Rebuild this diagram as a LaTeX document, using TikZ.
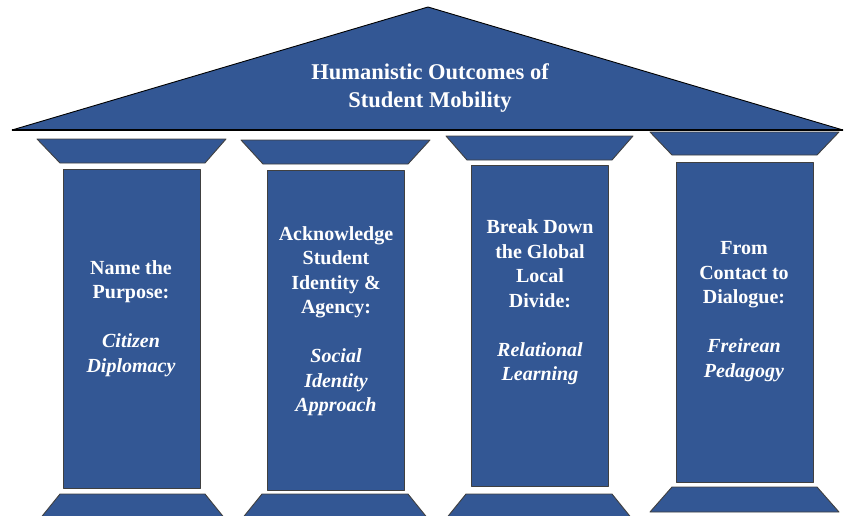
\documentclass[tikz,border=0pt]{standalone}
\usepackage{fontspec}
\setmainfont{Liberation Serif}
\definecolor{pillarblue}{RGB}{51,87,148}
\begin{document}
\begin{tikzpicture}[x=1pt,y=-1pt,
  part/.style={fill=pillarblue, draw=black!75, line width=0.9pt, line join=round},
  ptext/.style={text=white, font=\bfseries\fontsize{20}{24.5}\selectfont, align=center, inner sep=0pt},
  rtext/.style={text=white, font=\bfseries\fontsize{22.5}{28}\selectfont, align=center, inner sep=0pt}]
\useasboundingbox (0,0) rectangle (844,515);
\clip (0,0) rectangle (844,515);
% roof
\draw[part, draw=black] (12,130) -- (428,7) -- (843,130) -- cycle;
\draw[line width=2pt] (12,130) -- (843,130);
\node[rtext] (roof) at (430,88) {Humanistic Outcomes of\\Student Mobility};
% pillar 1
\draw[part] (37,139) -- (226,139) -- (205,163) -- (60,163) -- cycle;
\draw[part] (63,169) rectangle (200,488);
\draw[part] (60,494) -- (205,494) -- (226,520) -- (39,520) -- cycle;
% pillar 2
\draw[part] (241,140) -- (430,140) -- (408,164) -- (263,164) -- cycle;
\draw[part] (267,170) rectangle (404,490);
\draw[part] (262,494) -- (408,494) -- (429,520) -- (241,520) -- cycle;
% pillar 3
\draw[part] (446,136) -- (633,136) -- (612,160) -- (467,160) -- cycle;
\draw[part] (471,165) rectangle (608,486);
\draw[part] (466,494) -- (612,494) -- (633,520) -- (445,520) -- cycle;
% pillar 4
\draw[part] (650,132) -- (839,132) -- (817,155) -- (672,155) -- cycle;
\draw[part] (676,162) rectangle (813,482);
\draw[part] (672,487) -- (817,487) -- (839,512) -- (650,512) -- cycle;
% texts
\node[ptext] (t1) at (131,318.5) {Name the\\Purpose:\\[24.5pt]\textit{Citizen}\\\textit{Diplomacy}};
\node[ptext] (t2) at (336,321) {Acknowledge\\Student\\Identity \&\\Agency:\\[24.5pt]\textit{Social}\\\textit{Identity}\\\textit{Approach}};
\node[ptext] (t3) at (540,302.5) {Break Down\\the Global\\Local\\Divide:\\[24.5pt]\textit{Relational}\\\textit{Learning}};
\node[ptext] (t4) at (744,311.5) {From\\Contact to\\Dialogue:\\[24.5pt]\textit{Freirean}\\\textit{Pedagogy}};
\end{tikzpicture}
\end{document}
